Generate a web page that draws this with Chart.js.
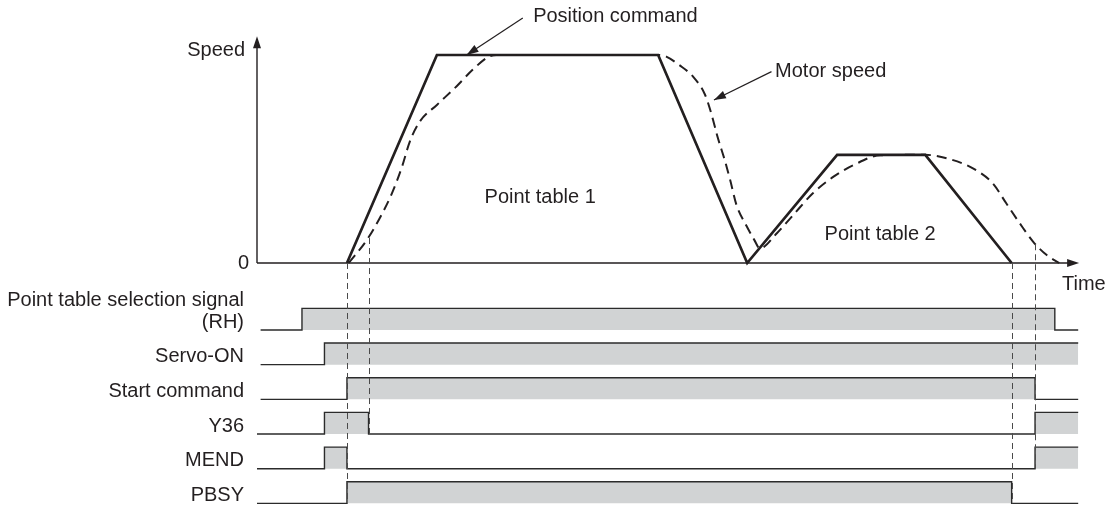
<!DOCTYPE html>
<html>
<head>
<meta charset="utf-8">
<script src="https://cdn.jsdelivr.net/npm/chart.js@4.4.0/dist/chart.umd.min.js"></script>
<style>
  html, body { margin: 0; padding: 0; background: #fff; overflow: hidden; }
  canvas { display: block; }
</style>
</head>
<body>
<canvas id="timing-chart" width="1110" height="506"></canvas>
<script>
// time in ms, speed in % of max
const posTime = [0, 100, 346, 445, 545, 643, 739];
const posSpeed = [0, 100, 100, 0, 52, 52, 0];

const motorTime = [2, 22, 37, 50, 61, 70, 81, 100, 122, 140, 157, 166, 346, 355, 370, 385, 398, 405, 412, 420, 426, 433, 444, 453, 459, 478, 496, 518, 541, 563, 593, 643, 667, 696, 718, 733, 748, 763, 778, 792];
const motorSpeed = [0, 11, 22, 33.5, 46, 58.5, 68, 76, 85, 93, 99, 100, 100, 99.2, 95, 89.5, 81, 72, 60.7, 49.5, 40, 28, 18, 11, 7, 14.3, 23, 33.5, 41.5, 47, 51.8, 52, 50.3, 45.5, 38.3, 28.7, 19.1, 10.2, 3.8, 0];

const signalNames = ['Point table selection signal\n(RH)', 'Servo-ON', 'Start command', 'Y36', 'MEND', 'PBSY'];
const rhTime = [-96, -50, 787, 813];
const rhLevel = [0, 1, 0, 0];
const servoTime = [-96, -25, 813];
const servoLevel = [0, 1, 1];
const startTime = [-96, 0, 765, 813];
const startLevel = [0, 1, 0, 0];
const y36Time = [-100, -25, 24, 765, 813];
const y36Level = [0, 1, 0, 1, 1];
const mendTime = [-100, -25, 0, 765, 813];
const mendLevel = [0, 1, 0, 1, 1];
const pbsyTime = [-100, 0, 739, 813];
const pbsyLevel = [0, 1, 0, 0];

const signalTimes = [rhTime, servoTime, startTime, y36Time, mendTime, pbsyTime];
const signalLevels = [rhLevel, servoLevel, startLevel, y36Level, mendLevel, pbsyLevel];

// dashed guide lines: time, speed where they start, signal row where they end
const guideTime = [0, 24, 739, 765];
const guideSpeed = [0, 12, 0, 9];
const guideRow = [5, 3, 5, 4];

const ROW_STEP = 1.605;
const INK = '#231f20';
const FONT = '20px "Liberation Sans", Arial, sans-serif';

const signalSets = signalNames.map((name, i) => {
    const base = -i * ROW_STEP;
    return {
        label: name,
        yAxisID: 'ySig',
        data: signalTimes[i].map((t, k) => ({ x: t, y: base + signalLevels[i][k] })),
        stepped: true,
        borderColor: '#2b2b2b',
        borderWidth: 1.4,
        backgroundColor: '#d1d3d4',
        fill: { value: base },
        pointRadius: 0,
        clip: false
    };
});

function arrowHead(ctx, x1, y1, x2, y2, len, half) {
    const a = Math.atan2(y2 - y1, x2 - x1);
    const c = Math.cos(a), s = Math.sin(a);
    ctx.beginPath();
    ctx.moveTo(x2, y2);
    ctx.lineTo(x2 - len * c + half * s, y2 - len * s - half * c);
    ctx.lineTo(x2 - len * c - half * s, y2 - len * s + half * c);
    ctx.closePath();
    ctx.fill();
}

const timingDecor = {
    id: 'timingDecor',
    beforeDatasetsDraw(chart) {
        const { ctx, scales: { x, y } } = chart;
        const x0 = x.getPixelForValue(-100);
        const y0 = y.getPixelForValue(0);
        const yTop = y.getPixelForValue(109);
        const xEnd = x.getPixelForValue(814);
        ctx.save();
        ctx.strokeStyle = INK;
        ctx.fillStyle = INK;
        ctx.lineWidth = 1.4;
        ctx.beginPath();
        ctx.moveTo(x0, y0);
        ctx.lineTo(x0, yTop + 8);
        ctx.moveTo(x0, y0);
        ctx.lineTo(xEnd - 8, y0);
        ctx.stroke();
        arrowHead(ctx, x0, y0, x0, yTop, 12, 4);
        arrowHead(ctx, x0, y0, xEnd, y0, 12, 4);
        ctx.restore();
    },
    afterDatasetsDraw(chart) {
        const { ctx, scales: { x, y, ySig } } = chart;
        ctx.save();

        // guides
        ctx.strokeStyle = '#4a4a4a';
        ctx.lineWidth = 1;
        ctx.setLineDash([6, 4]);
        guideTime.forEach((t, i) => {
            const px = Math.round(x.getPixelForValue(t)) + 0.5;
            ctx.beginPath();
            ctx.moveTo(px, y.getPixelForValue(guideSpeed[i]));
            ctx.lineTo(px, ySig.getPixelForValue(-guideRow[i] * ROW_STEP));
            ctx.stroke();
        });
        ctx.setLineDash([]);

        // text
        ctx.fillStyle = INK;
        ctx.font = FONT;
        ctx.textBaseline = 'middle';
        const labelX = x.getPixelForValue(-100) - 13;
        ctx.textAlign = 'right';
        signalNames.forEach((name, i) => {
            const yLow = ySig.getPixelForValue(-i * ROW_STEP);
            const lines = name.split('\n');
            lines.forEach((line, k) => {
                ctx.fillText(line, labelX, yLow - 8 - (lines.length - 1 - k) * 22);
            });
        });
        ctx.fillText('Speed', labelX + 1, y.getPixelForValue(102));
        ctx.fillText('0', labelX + 5, y.getPixelForValue(0));
        ctx.textAlign = 'left';
        ctx.fillText('Time', x.getPixelForValue(795), y.getPixelForValue(-10.3));
        ctx.fillText('Point table 1', x.getPixelForValue(153), y.getPixelForValue(31.7));
        ctx.fillText('Point table 2', x.getPixelForValue(531), y.getPixelForValue(13.5));
        ctx.fillText('Position command', x.getPixelForValue(207), y.getPixelForValue(118.5));
        ctx.fillText('Motor speed', x.getPixelForValue(476), y.getPixelForValue(92));

        // leader arrows
        ctx.strokeStyle = INK;
        ctx.lineWidth = 1.2;
        const leaders = [
            [195.5, 117.8, 133, 100],
            [472, 92, 408, 78.4]
        ];
        leaders.forEach(([t1, v1, t2, v2]) => {
            const ax = x.getPixelForValue(t1), ay = y.getPixelForValue(v1);
            const bx = x.getPixelForValue(t2), by = y.getPixelForValue(v2);
            ctx.beginPath();
            ctx.moveTo(ax, ay);
            ctx.lineTo(bx, by);
            ctx.stroke();
            arrowHead(ctx, ax, ay, bx, by, 12, 4);
        });
        ctx.restore();
    }
};

const ctx = document.getElementById('timing-chart').getContext('2d');

const timingChart = new Chart(ctx, {
    type: 'line',
    data: {
        datasets: [
            ...signalSets,
            {
                label: 'Motor speed',
                yAxisID: 'y',
                data: motorTime.map((t, i) => ({ x: t, y: motorSpeed[i] })),
                borderColor: INK,
                borderWidth: 2,
                borderDash: [10, 6],
                cubicInterpolationMode: 'monotone',
                pointRadius: 0,
                fill: false,
                clip: false
            },
            {
                label: 'Position command',
                yAxisID: 'y',
                data: posTime.map((t, i) => ({ x: t, y: posSpeed[i] })),
                borderColor: INK,
                borderWidth: 2.7,
                borderJoinStyle: 'miter',
                tension: 0,
                pointRadius: 0,
                fill: false,
                clip: false
            }
        ]
    },
    options: {
        responsive: false,
        devicePixelRatio: 1,
        animation: false,
        layout: { padding: { left: 257, right: 30, top: 0, bottom: 0 } },
        plugins: {
            legend: { display: false },
            tooltip: { enabled: false }
        },
        scales: {
            x: { type: 'linear', min: -100, max: 815, display: false },
            y: { type: 'linear', min: -116.83, max: 126.44, display: false },
            ySig: { type: 'linear', min: -8.148, max: 15.278, display: false }
        }
    },
    plugins: [timingDecor]
});
</script>
</body>
</html>
